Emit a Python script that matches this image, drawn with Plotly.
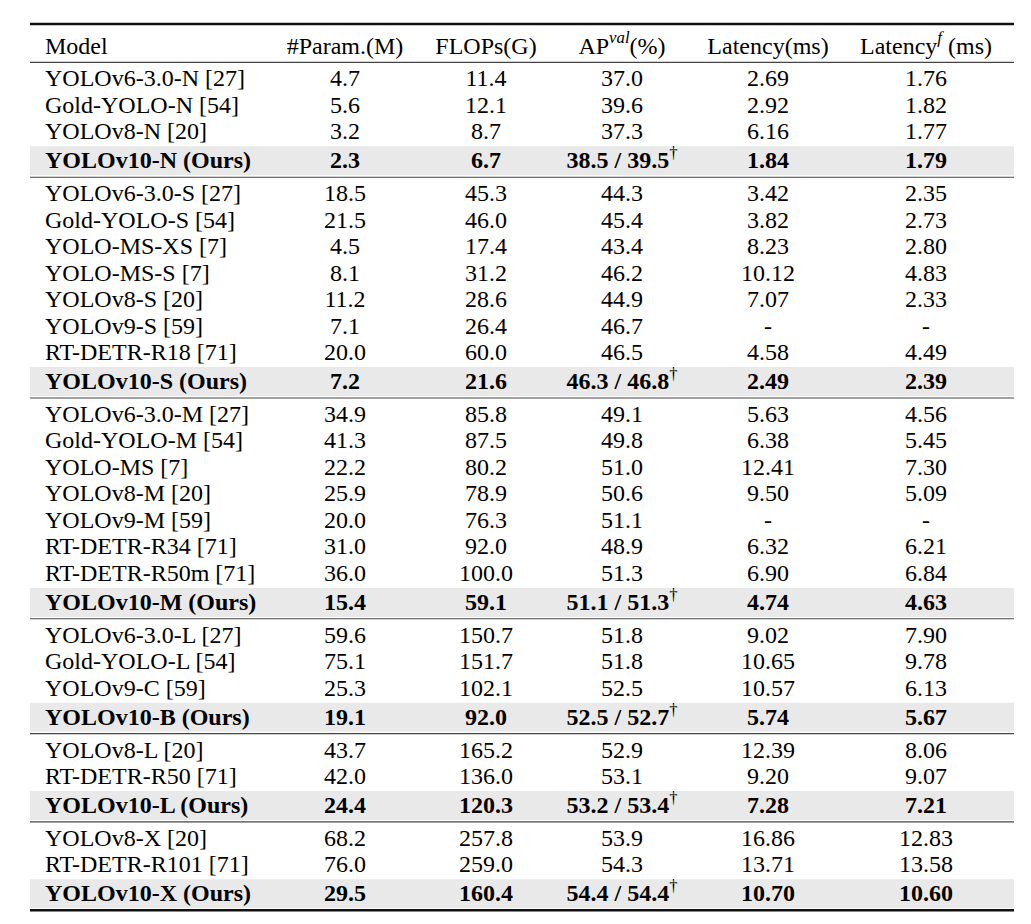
import plotly.graph_objects as go

# rows of the comparison table, grouped by model scale
models = [
    "YOLOv6-3.0-N [27]", "Gold-YOLO-N [54]", "YOLOv8-N [20]", "YOLOv10-N (Ours)",
    "YOLOv6-3.0-S [27]", "Gold-YOLO-S [54]", "YOLO-MS-XS [7]", "YOLO-MS-S [7]",
    "YOLOv8-S [20]", "YOLOv9-S [59]", "RT-DETR-R18 [71]", "YOLOv10-S (Ours)",
    "YOLOv6-3.0-M [27]", "Gold-YOLO-M [54]", "YOLO-MS [7]", "YOLOv8-M [20]",
    "YOLOv9-M [59]", "RT-DETR-R34 [71]", "RT-DETR-R50m [71]", "YOLOv10-M (Ours)",
    "YOLOv6-3.0-L [27]", "Gold-YOLO-L [54]", "YOLOv9-C [59]", "YOLOv10-B (Ours)",
    "YOLOv8-L [20]", "RT-DETR-R50 [71]", "YOLOv10-L (Ours)",
    "YOLOv8-X [20]", "RT-DETR-R101 [71]", "YOLOv10-X (Ours)",
]
group_sizes = [4, 8, 8, 4, 3, 3]

params = [4.7, 5.6, 3.2, 2.3,
          18.5, 21.5, 4.5, 8.1, 11.2, 7.1, 20.0, 7.2,
          34.9, 41.3, 22.2, 25.9, 20.0, 31.0, 36.0, 15.4,
          59.6, 75.1, 25.3, 19.1,
          43.7, 42.0, 24.4,
          68.2, 76.0, 29.5]
flops = [11.4, 12.1, 8.7, 6.7,
         45.3, 46.0, 17.4, 31.2, 28.6, 26.4, 60.0, 21.6,
         85.8, 87.5, 80.2, 78.9, 76.3, 92.0, 100.0, 59.1,
         150.7, 151.7, 102.1, 92.0,
         165.2, 136.0, 120.3,
         257.8, 259.0, 160.4]
ap_val = [37.0, 39.6, 37.3, 38.5,
          44.3, 45.4, 43.4, 46.2, 44.9, 46.7, 46.5, 46.3,
          49.1, 49.8, 51.0, 50.6, 51.1, 48.9, 51.3, 51.1,
          51.8, 51.8, 52.5, 52.5,
          52.9, 53.1, 53.2,
          53.9, 54.3, 54.4]
# AP for the NMS-free + one-to-many variant (only for our models)
ap_dagger = {3: 39.5, 11: 46.8, 19: 51.3, 23: 52.7, 26: 53.4, 29: 54.4}
latency = [2.69, 2.92, 6.16, 1.84,
           3.42, 3.82, 8.23, 10.12, 7.07, None, 4.58, 2.49,
           5.63, 6.38, 12.41, 9.50, None, 6.32, 6.90, 4.74,
           9.02, 10.65, 10.57, 5.74,
           12.39, 9.20, 7.28,
           16.86, 13.71, 10.70]
latency_f = [1.76, 1.82, 1.77, 1.79,
             2.35, 2.73, 2.80, 4.83, 2.33, None, 4.49, 2.39,
             4.56, 5.45, 7.30, 5.09, None, 6.21, 6.84, 4.63,
             7.90, 9.78, 6.13, 5.67,
             8.06, 9.07, 7.21,
             12.83, 13.58, 10.60]

headers = ["Model", "#Param.(M)", "FLOPs(G)", "AP<sup><i>val</i></sup>(%)",
           "Latency(ms)", "Latency<sup><i>f</i></sup> (ms)"]

# page coords: the html body has an 8px margin, so axis units == window pixels
W, H = 1031, 924
BODY = 8
X_LEFT, X_RIGHT = 30, 1014
col_x = [45, 345, 486, 622, 768, 926]
TOP_RULE = 24
HEAD_Y = 46
ROW_H = 26.5
OURS_H = 29
PAD = 16.4
TEXT_DY = 1.5  # baseline nudge for plotly's text centring
FONT = "Liberation Serif"
FS = 24

ours = [m.endswith("(Ours)") for m in models]

# vertical positions of each row
row_y = []
rules = [HEAD_Y + PAD]
i = 0
for g in group_sizes:
    y = rules[-1] + PAD
    for k in range(g):
        if k > 0:
            y += OURS_H if ours[i] else ROW_H
        row_y.append(y)
        i += 1
    rules.append(y + PAD)


def fmt(v, d):
    return "-" if v is None else f"{v:.{d}f}"


def cell(s, bold):
    return f"<b>{s}</b>" if bold else s


cols = [
    [cell(m, b) for m, b in zip(models, ours)],
    [cell(fmt(v, 1), b) for v, b in zip(params, ours)],
    [cell(fmt(v, 1), b) for v, b in zip(flops, ours)],
    [cell(fmt(v, 1) + (f" / {ap_dagger[j]:.1f}" if j in ap_dagger else ""), ours[j])
     + ("<sup>†</sup>" if j in ap_dagger else "")
     for j, v in enumerate(ap_val)],
    [cell(fmt(v, 2), b) for v, b in zip(latency, ours)],
    [cell(fmt(v, 2), b) for v, b in zip(latency_f, ours)],
]

fig = go.Figure()

shapes = []
for j, yy in enumerate(row_y):
    if ours[j]:
        shapes.append(dict(type="rect", xref="x", yref="y", layer="below",
                           x0=X_LEFT, x1=X_RIGHT, y0=yy - OURS_H / 2, y1=yy + OURS_H / 2,
                           fillcolor="#e9e9e9", line=dict(width=0)))
for k, ry in enumerate(rules):
    last = k == len(rules) - 1
    shapes.append(dict(type="line", xref="x", yref="y",
                       x0=X_LEFT, x1=X_RIGHT, y0=ry, y1=ry,
                       line=dict(color="#111" if last else "#444", width=2.6 if last else 1.1)))
shapes.append(dict(type="line", xref="x", yref="y", x0=X_LEFT, x1=X_RIGHT,
                   y0=TOP_RULE, y1=TOP_RULE, line=dict(color="#111", width=2.6)))

for c, texts in enumerate(cols):
    pos = "middle right" if c == 0 else "middle center"
    fig.add_trace(go.Scatter(
        x=[col_x[c]] * (len(texts) + 1),
        y=[yy + TEXT_DY for yy in [HEAD_Y] + row_y],
        text=[headers[c]] + texts,
        mode="text",
        textposition=pos,
        textfont=dict(family=FONT, size=FS, color="black"),
        hoverinfo="skip",
        showlegend=False,
    ))

fig.update_layout(
    width=W - 2 * BODY, height=H - 2 * BODY,
    margin=dict(l=0, r=0, t=0, b=0),
    paper_bgcolor="white", plot_bgcolor="white",
    shapes=shapes,
    xaxis=dict(range=[BODY, W - BODY], visible=False, fixedrange=True),
    yaxis=dict(range=[H - BODY, BODY], visible=False, fixedrange=True),
)

fig.write_html("out.html")
